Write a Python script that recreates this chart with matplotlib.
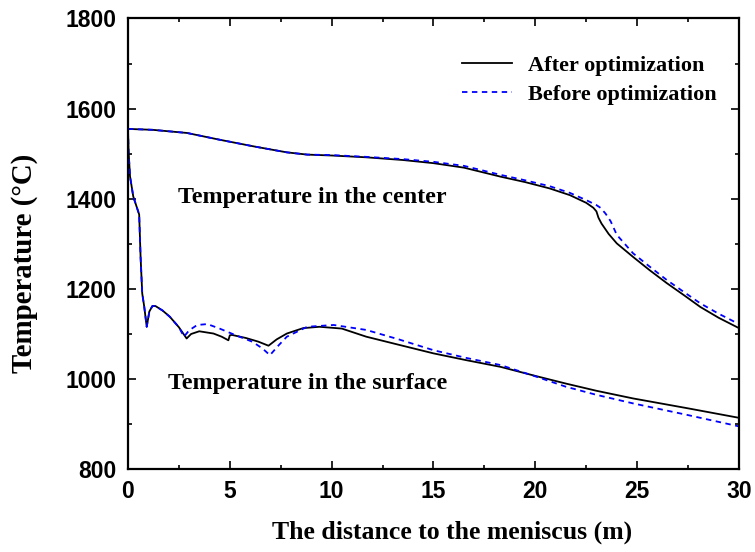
import matplotlib
matplotlib.use("Agg")
import matplotlib.pyplot as plt
from matplotlib.ticker import MultipleLocator

# center temperature, after / before optimization
center_x_after = [0, 1.2, 2.9, 4.5, 6.2, 7.8, 8.8, 10.0, 11.7, 13.5, 15.0, 16.5, 18.3, 19.5,
                  20.7, 21.7, 22.5, 22.85, 23.0, 23.1, 23.25, 23.6, 24.0, 24.8, 25.6, 26.45,
                  27.3, 28.1, 29.0, 30.0]
center_after = [1555, 1553, 1546, 1531, 1516, 1503, 1498, 1496, 1492, 1486, 1479, 1469, 1449, 1437,
                1423, 1408, 1391, 1380, 1372, 1358, 1345, 1322, 1301, 1271, 1242, 1213,
                1186, 1160, 1136, 1113]

center_x_before = [0, 1.2, 2.9, 4.5, 6.2, 7.8, 8.8, 10.0, 11.7, 13.5, 15.0, 16.5, 18.3, 19.5,
                   20.7, 21.7, 22.5, 23.0, 23.2, 23.45, 23.7, 24.0, 24.8, 25.6, 26.45, 27.3,
                   28.1, 29.0, 30.0]
center_before = [1555, 1553, 1546, 1531, 1516, 1503, 1498, 1497, 1493, 1488, 1482, 1473, 1453, 1441,
                 1428, 1413, 1397, 1386, 1380, 1367, 1350, 1320, 1279, 1250, 1220, 1193,
                 1168, 1145, 1122]

# surface temperature, after / before optimization
surf_x_after = [0, 0.03, 0.1, 0.26, 0.5, 0.55, 0.62, 0.7, 0.8, 0.92, 1.05, 1.2, 1.35, 1.7, 2.06,
                2.5, 2.88, 3.1, 3.5, 4.2, 4.6, 4.93, 5.0, 5.1, 5.8, 6.4, 6.9, 7.3, 7.8, 8.6,
                9.4, 10.5, 11.7, 13.3, 15.0, 16.6, 18.3, 20.0, 21.5, 23.0, 24.8, 27.5, 30.0]
surf_after = [1555, 1505, 1450, 1405, 1372, 1365, 1270, 1190, 1160, 1116, 1150, 1162, 1162, 1152, 1138,
              1115, 1090, 1100, 1106, 1101, 1094, 1086, 1097, 1098, 1091, 1083, 1074, 1088, 1101, 1113,
              1116, 1112, 1094, 1076, 1057, 1042, 1027, 1007, 990, 974, 957, 935, 914]

surf_x_before = [0, 0.03, 0.1, 0.26, 0.5, 0.55, 0.62, 0.7, 0.8, 0.92, 1.05, 1.2, 1.35, 1.7, 2.06,
                 2.5, 2.75, 3.0, 3.4, 3.9, 4.5, 5.3, 6.1, 6.6, 6.97, 7.4, 7.8, 8.8, 10.1, 11.7,
                 13.3, 15.0, 16.6, 18.3, 20.0, 21.5, 23.0, 24.8, 27.5, 30.0]
surf_before = [1555, 1505, 1450, 1405, 1372, 1365, 1270, 1190, 1160, 1116, 1150, 1162, 1162, 1152, 1138,
               1115, 1094, 1108, 1120, 1122, 1112, 1097, 1083, 1068, 1053, 1075, 1094, 1116, 1120, 1109,
               1088, 1064, 1047, 1031, 1006, 983, 965, 946, 920, 895]

serif = "Liberation Serif"
sans = "Liberation Sans"
W, H = 755, 552

fig = plt.figure(figsize=(7.55, 5.52), dpi=100)
ax = fig.add_axes([0.1695, 0.150, 0.8093, 0.8165])

ax.plot(center_x_after, center_after, color="black", lw=1.3, label="After optimization")
ax.plot(center_x_before, center_before, color="blue", lw=1.3, dashes=(3, 2.5),
        label="Before optimization")
ax.plot(surf_x_after, surf_after, color="black", lw=1.3)
ax.plot(surf_x_before, surf_before, color="blue", lw=1.3, dashes=(3, 2.5))

ax.set_xlim(0, 30)
ax.set_ylim(800, 1800)
ax.xaxis.set_major_locator(MultipleLocator(5))
ax.xaxis.set_minor_locator(MultipleLocator(2.5))
ax.yaxis.set_major_locator(MultipleLocator(200))
ax.yaxis.set_minor_locator(MultipleLocator(100))
ax.tick_params(which="both", direction="in", top=True, right=True, width=1.2)
ax.tick_params(which="major", length=6)
ax.tick_params(which="minor", length=3)
ax.tick_params(axis="x", pad=8)
ax.tick_params(axis="y", pad=8)
for lab in ax.get_xticklabels() + ax.get_yticklabels():
    lab.set_fontfamily(sans)
    lab.set_fontweight("bold")
    lab.set_fontsize(16.5)
for sp in ax.spines.values():
    sp.set_linewidth(1.6)

# axis titles placed where they sit in the original
fig.text(452 / W, 1 - 532 / H, "The distance to the meniscus (m)", fontfamily=serif,
         fontweight="bold", fontsize=18.5, ha="center", va="center")
fig.text(25 / W, 1 - 263 / H, "Temperature (\u00b0C)", fontfamily=serif, fontweight="bold",
         fontsize=20.8, ha="center", va="center", rotation=90)

ax.text(2.45, 1402, "Temperature in the center", fontfamily=serif, fontweight="bold",
        fontsize=17.3, va="center")
ax.text(1.96, 991, "Temperature in the surface", fontfamily=serif, fontweight="bold",
        fontsize=17.3, va="center")

ax.legend(loc="upper left", bbox_to_anchor=(462 / W, 1 - 55 / H), bbox_transform=fig.transFigure,
          frameon=False, borderpad=0, borderaxespad=0,
          prop={"family": serif, "weight": "bold", "size": 16},
          handlelength=2.25, handletextpad=0.72, labelspacing=0.4)

fig.savefig("out.png", dpi=100)
